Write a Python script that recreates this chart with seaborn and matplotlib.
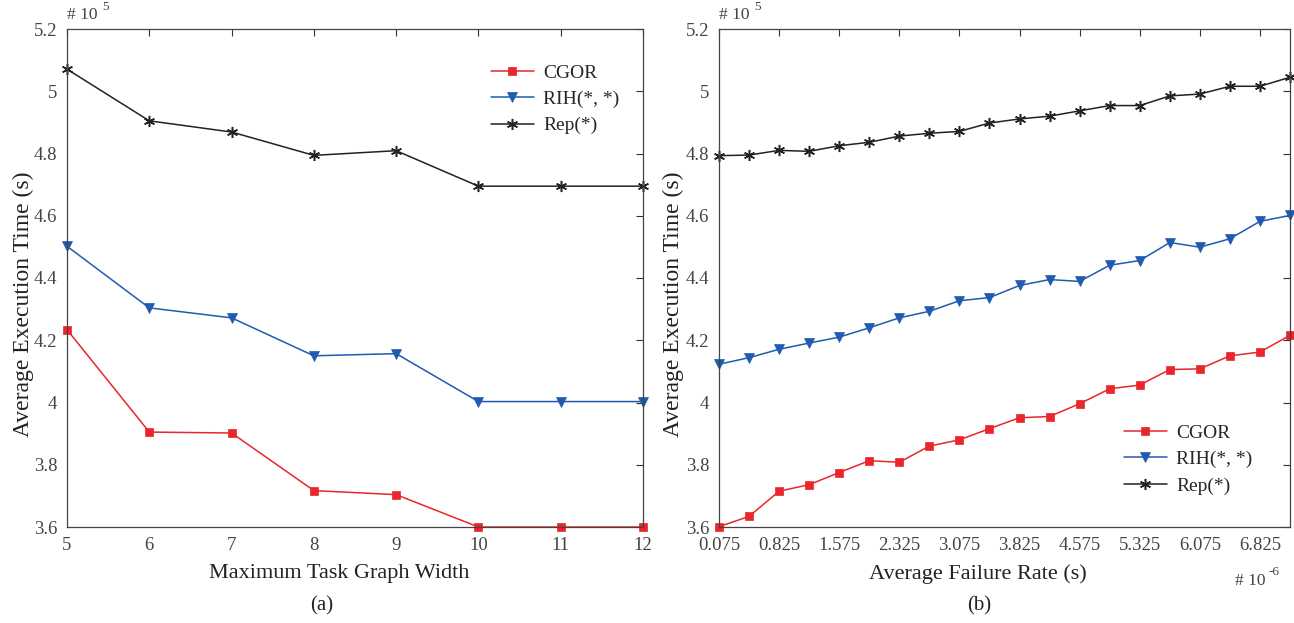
import matplotlib
matplotlib.use("Agg")
import matplotlib.pyplot as plt
import seaborn as sns
import pandas as pd

# ---- data (values in units of 1e5 s) ----
width = [5, 6, 7, 8, 9, 10, 11, 12]
cgor_a = [4.234, 3.905, 3.902, 3.717, 3.704, 3.600, 3.600, 3.600]
rih_a = [4.502, 4.304, 4.272, 4.150, 4.157, 4.003, 4.003, 4.003]
rep_a = [5.071, 4.905, 4.869, 4.794, 4.809, 4.695, 4.695, 4.695]

fail_rate = [0.075, 0.45, 0.825, 1.2, 1.575, 1.95, 2.325, 2.7, 3.075, 3.45,
             3.825, 4.2, 4.575, 4.95, 5.325, 5.7, 6.075, 6.45, 6.825, 7.2]
cgor_b = [3.601, 3.634, 3.715, 3.736, 3.775, 3.813, 3.808, 3.860, 3.880, 3.916,
          3.951, 3.955, 3.996, 4.044, 4.056, 4.106, 4.108, 4.150, 4.162, 4.216]
rih_b = [4.123, 4.144, 4.171, 4.191, 4.210, 4.240, 4.272, 4.293, 4.327, 4.337,
         4.376, 4.395, 4.389, 4.441, 4.456, 4.514, 4.499, 4.526, 4.582, 4.601]
rep_b = [4.793, 4.795, 4.810, 4.807, 4.825, 4.836, 4.856, 4.865, 4.871, 4.898,
         4.911, 4.920, 4.937, 4.954, 4.954, 4.985, 4.991, 5.016, 5.016, 5.045]

series_names = ["CGOR", "RIH(*, *)", "Rep(*)"]
y_ticks = [3.6, 3.8, 4.0, 4.2, 4.4, 4.6, 4.8, 5.0, 5.2]
y_tick_labels = ["3.6", "3.8", "4", "4.2", "4.4", "4.6", "4.8", "5", "5.2"]
xb_ticks = [0.075, 0.825, 1.575, 2.325, 3.075, 3.825, 4.575, 5.325, 6.075, 6.825]
xb_tick_labels = ["0.075", "0.825", "1.575", "2.325", "3.075", "3.825",
                  "4.575", "5.325", "6.075", "6.825"]

sns.set_theme(style="white")
plt.rcParams["font.family"] = ["Liberation Serif", "DejaVu Serif"]

colors = ["#e8262b", "#1f5bb0", "#222222"]
markers = ["s", "v", (6, 2, 0)]
msizes = [5.5, 7, 8]
label_color = "#222222"
tick_color = "#444444"

fig = plt.figure(figsize=(12.94, 6.23), dpi=100)
ax1 = fig.add_axes([67 / 1294, 1 - 527 / 623, 576 / 1294, 498 / 623])
ax2 = fig.add_axes([719 / 1294, 1 - 527 / 623, 571 / 1294, 498 / 623])


def draw(ax, x, ys):
    for name, y, c, m, ms in zip(series_names, ys, colors, markers, msizes):
        df = pd.DataFrame({"x": x, "y": y})
        sns.lineplot(data=df, x="x", y="y", ax=ax, color=c, marker=m,
                     markersize=ms, markeredgecolor=c, markerfacecolor=c,
                     markeredgewidth=1.1 if isinstance(m, tuple) else 0.5,
                     linewidth=1.1, label=name, clip_on=False)
    ax.set_ylim(3.6, 5.2)
    ax.set_yticks(y_ticks)
    ax.set_yticklabels(y_tick_labels)
    ax.tick_params(direction="in", top=True, right=True, length=5,
                   width=0.8, color="#333333", labelsize=13.5,
                   labelcolor=tick_color, pad=7)
    for s in ax.spines.values():
        s.set_color("#444444")
        s.set_linewidth(0.9)
    ax.set_ylabel("Average Execution Time (s)", fontsize=17,
                  color=label_color)
    ax.text(0.0, 1.012, "# 10", transform=ax.transAxes,
            fontsize=12.5, color=tick_color, ha="left", va="bottom")
    ax.text(0.062, 1.032, "5", transform=ax.transAxes,
            fontsize=9.5, color=tick_color, ha="left", va="bottom")


draw(ax1, width, [cgor_a, rih_a, rep_a])
ax1.set_xlim(5, 12)
ax1.set_xticks(width)
ax1.set_xlabel("Maximum Task Graph Width", fontsize=16, color=label_color)
ax1.xaxis.set_label_coords(0.472, -0.075)
ax1.yaxis.set_label_coords(-0.057, 0.448)
ax1.legend(loc="upper right", bbox_to_anchor=(0.99, 0.965), frameon=False,
           fontsize=14, handlelength=2.2, labelspacing=0.45,
           handletextpad=0.5)

draw(ax2, fail_rate, [cgor_b, rih_b, rep_b])
ax2.set_xlim(0.075, 7.2)
ax2.set_xticks(xb_ticks)
ax2.set_xticklabels(xb_tick_labels)
ax2.set_xlabel("Average Failure Rate (s)", fontsize=16, color=label_color)
ax2.xaxis.set_label_coords(0.454, -0.075)
ax2.yaxis.set_label_coords(-0.061, 0.448)
ax2.legend(loc="lower right", bbox_to_anchor=(0.965, 0.03), frameon=False,
           fontsize=14, handlelength=2.2, labelspacing=0.45,
           handletextpad=0.5)
ax2.text(0.904, -0.092, "# 10", transform=ax2.transAxes,
         fontsize=12.5, color=tick_color, ha="left", va="top")
ax2.text(0.963, -0.078, "-6", transform=ax2.transAxes,
         fontsize=9.5, color=tick_color, ha="left", va="top")

fig.text(322 / 1294, 1 - 606 / 623, "(a)", fontsize=15, ha="center",
         va="center", color=label_color)
fig.text(979 / 1294, 1 - 606 / 623, "(b)", fontsize=15, ha="center",
         va="center", color=label_color)

fig.savefig("out.png", dpi=100, facecolor="white")
